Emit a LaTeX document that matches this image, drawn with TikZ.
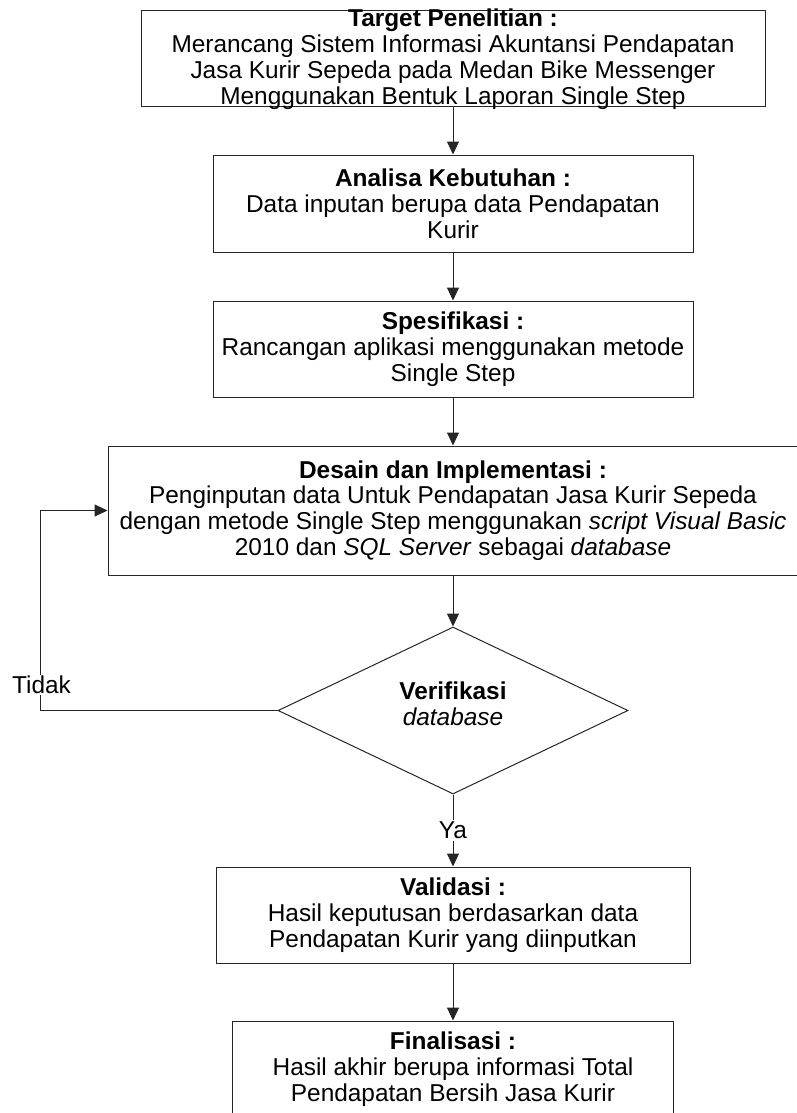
\documentclass[tikz,border=0pt]{standalone}
\usepackage{fontspec}
\setmainfont{Liberation Sans}
\usetikzlibrary{arrows.meta,shapes.geometric}
\begin{document}
\begin{tikzpicture}[x=1pt,y=-1pt,
  box/.style={draw=black!85, line width=1pt, inner sep=0pt},
  txt/.style={align=center, font=\fontsize{24.4}{25.8}\selectfont, inner sep=0pt},
  arr/.style={-{Triangle[length=13pt,width=12pt]}, line width=1pt, draw=black!85}]
\fill[white] (0,0) rectangle (796,1113);
\useasboundingbox (0,0) rectangle (796,1113);
% boxes
\node[box, minimum width=624pt, minimum height=96pt] (b1) at (453,59) {};
\node[box, minimum width=480pt, minimum height=97pt] (b2) at (453,203.5) {};
\node[box, minimum width=480pt, minimum height=96pt] (b3) at (453,349) {};
\node[box, minimum width=690pt, minimum height=129pt] (b4) at (453,510.5) {};
\node[box, diamond, minimum width=350pt, minimum height=167pt, aspect=2] (d) at (453,710.5) {};
\node[box, minimum width=474pt, minimum height=96pt] (b5) at (453,915) {};
\node[box, minimum width=441pt, minimum height=96pt] (b6) at (453,1069) {};
% texts
\node[txt] (t1) at (b1.center) {\textbf{Target Penelitian :}\\Merancang Sistem Informasi Akuntansi Pendapatan\\Jasa Kurir Sepeda pada Medan Bike Messenger\\Menggunakan Bentuk Laporan Single Step};
\node[txt] (t2) at (b2.center) {\textbf{Analisa Kebutuhan :}\\Data inputan berupa data Pendapatan\\Kurir};
\node[txt] (t3) at (b3.center) {\textbf{Spesifikasi :}\\Rancangan aplikasi menggunakan metode\\Single Step};
\node[txt] (t4) at (b4.center) {\textbf{Desain dan Implementasi :}\\Penginputan data Untuk Pendapatan Jasa Kurir Sepeda\\dengan metode Single Step menggunakan \textit{script Visual Basic}\\2010 dan \textit{SQL Server} sebagai \textit{database}};
\node[txt] (td) at (453,704) {\textbf{Verifikasi}\\\textit{database}};
\node[txt] (t5) at (b5.center) {\textbf{Validasi :}\\Hasil keputusan berdasarkan data\\Pendapatan Kurir yang diinputkan};
\node[txt] (t6) at (b6.center) {\textbf{Finalisasi :}\\Hasil akhir berupa informasi Total\\Pendapatan Bersih Jasa Kurir};
% connectors
\draw[arr] (b1.south) -- (b2.north);
\draw[arr] (b2.south) -- (b3.north);
\draw[arr] (b3.south) -- (b4.north);
\draw[arr] (b4.south) -- (d.north);
\draw[arr] (d.south) -- node[txt, fill=white, inner sep=2pt] (ya) {Ya} (b5.north);
\draw[arr] (b5.south) -- (b6.north);
\draw[arr] (d.west) -- ++(-237,0) coordinate (fb) |- (b4.west);
\node[txt, fill=white, inner sep=1.5pt] (tidak) at (41.5,685) {Tidak};
\end{tikzpicture}
\end{document}
